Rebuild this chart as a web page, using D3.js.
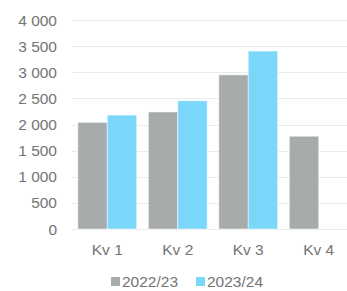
<!DOCTYPE html>
<html>
<head>
<meta charset="utf-8">
<script src="https://cdn.jsdelivr.net/npm/d3@7"></script>
<style>
  body { margin: 0; background: #fff; }
  text { font-family: "Liberation Sans", Arial, sans-serif; fill: #747474; }
</style>
</head>
<body>
<div id="chart"></div>
<script>
// data
var quarters = ["Kv 1", "Kv 2", "Kv 3", "Kv 4"];
var series = ["2022/23", "2023/24"];
var values2022 = [2040, 2240, 2950, 1775];
var values2023 = [2180, 2455, 3405, null];
var yTicks = [0, 500, 1000, 1500, 2000, 2500, 3000, 3500, 4000];
var colors = ["#a7abab", "#7bd7fa"];

var svgWidth = 347, svgHeight = 291;
var margin = { top: 20, right: -7, bottom: 62, left: 72 };
var width = svgWidth - margin.left - margin.right;
var height = svgHeight - margin.top - margin.bottom;

var svg = d3.select("#chart").append("svg")
  .attr("width", svgWidth)
  .attr("height", svgHeight);
var chartGroup = svg.append("g")
  .attr("transform", `translate(${margin.left}, ${margin.top})`);

var x0 = d3.scaleBand().domain(quarters).range([0, width]).paddingInner(0.165).paddingOuter(0.083);
var x1 = d3.scaleBand().domain(series).range([0, x0.bandwidth()]);
var y = d3.scaleLinear().domain([0, 4000]).range([height, 0]);

// gridlines
chartGroup.selectAll("line.grid")
  .data(yTicks)
  .enter()
  .append("line")
  .attr("x1", 0)
  .attr("x2", width)
  .attr("y1", d => Math.round(y(d)) + 0.5)
  .attr("y2", d => Math.round(y(d)) + 0.5)
  .attr("stroke", "#ebebeb")
  .attr("stroke-width", 1);

// y labels
chartGroup.selectAll("text.ylab")
  .data(yTicks)
  .enter()
  .append("text")
  .attr("x", -15)
  .attr("y", d => y(d))
  .attr("dy", "0.36em")
  .attr("text-anchor", "end")
  .attr("font-size", "15.5px")
  .text(d => d3.format(",")(d).replace(/,/g, " "));

// bars
var rows = quarters.map((q, i) => ({ q: q, vals: [values2022[i], values2023[i]] }));
var groups = chartGroup.selectAll("g.q")
  .data(rows)
  .enter()
  .append("g")
  .attr("transform", d => `translate(${x0(d.q)},0)`);
groups.selectAll("rect")
  .data(d => d.vals.map((v, j) => ({ s: series[j], v: v, j: j })).filter(d => d.v != null))
  .enter()
  .append("rect")
  .attr("x", d => x1(d.s))
  .attr("y", d => y(d.v))
  .attr("width", x1.bandwidth())
  .attr("height", d => height - y(d.v))
  .attr("fill", d => colors[d.j])
  .attr("stroke", "#ffffff")
  .attr("stroke-opacity", 0.5)
  .attr("stroke-width", 1);

// x labels
chartGroup.selectAll("text.xlab")
  .data(quarters)
  .enter()
  .append("text")
  .attr("x", d => x0(d) + x0.bandwidth() / 2)
  .attr("y", height + 26)
  .attr("text-anchor", "middle")
  .attr("font-size", "15.5px")
  .text(d => d);

// legend
var legend = svg.append("g");
var legX = [111, 196];
series.forEach(function (s, i) {
  legend.append("rect")
    .attr("x", legX[i])
    .attr("y", 277)
    .attr("width", 9)
    .attr("height", 9)
    .attr("fill", colors[i]);
  legend.append("text")
    .attr("x", legX[i] + 11)
    .attr("y", 287)
    .attr("font-size", "15.5px")
    .text(s);
});
</script>
</body>
</html>
